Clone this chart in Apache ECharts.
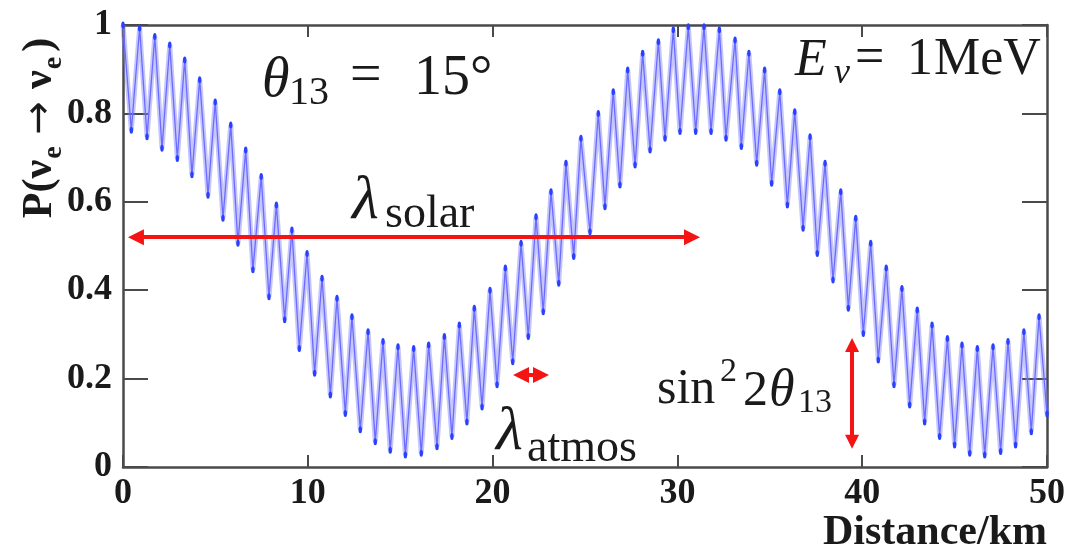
<!DOCTYPE html>
<html><head><meta charset="utf-8">
<script src="https://cdn.jsdelivr.net/npm/echarts@6/dist/echarts.min.js"></script>
<style>html,body{margin:0;padding:0;background:#fff}#c{width:1084px;height:552px}</style>
</head><body><div id="c"></div>
<script>
// Distance (km) of successive maxima / minima of the fast oscillation
const distanceKm = [
  0.00, 0.45, 0.90, 1.30, 1.72, 2.11, 2.53, 2.94, 3.34, 3.73,
  4.15, 4.60, 4.99, 5.41, 5.83, 6.22, 6.64, 7.03, 7.48, 7.90,
  8.30, 8.75, 9.14, 9.54, 9.96, 10.37, 10.77, 11.22, 11.58, 12.03,
  12.39, 12.84, 13.26, 13.65, 14.07, 14.46, 14.88, 15.28, 15.73, 16.14,
  16.54, 16.99, 17.39, 17.80, 18.20, 18.61, 19.01, 19.43, 19.86, 20.24,
  20.69, 21.09, 21.54, 21.93, 22.35, 22.74, 23.16, 23.58, 23.97, 24.39,
  24.78, 25.27, 25.72, 26.08, 26.53, 26.89, 27.31, 27.71, 28.12, 28.52,
  28.97, 29.33, 29.78, 30.14, 30.59, 30.99, 31.44, 31.82, 32.27, 32.63,
  33.12, 33.46, 33.87, 34.29, 34.72, 35.10, 35.54, 35.95, 36.35, 36.80,
  37.18, 37.57, 37.99, 38.42, 38.84, 39.25, 39.65, 40.06, 40.46, 40.87,
  41.30, 41.72, 42.15, 42.57, 42.98, 43.38, 43.78, 44.19, 44.61, 45.00,
  45.40, 45.82, 46.23, 46.63, 47.08, 47.49, 47.89, 48.30, 48.75, 49.15,
  49.57, 50.00
];
const probability = [
  1.000, 0.762, 0.993, 0.747, 0.974, 0.721, 0.955, 0.698, 0.921, 0.661,
  0.876, 0.615, 0.826, 0.563, 0.774, 0.506, 0.717, 0.446, 0.657, 0.385,
  0.593, 0.333, 0.536, 0.268, 0.483, 0.212, 0.427, 0.163, 0.382, 0.121,
  0.340, 0.084, 0.306, 0.057, 0.284, 0.038, 0.272, 0.027, 0.268, 0.031,
  0.276, 0.046, 0.295, 0.069, 0.321, 0.102, 0.359, 0.136, 0.400, 0.186,
  0.450, 0.238, 0.506, 0.295, 0.566, 0.351, 0.623, 0.416, 0.687, 0.476,
  0.744, 0.532, 0.800, 0.589, 0.849, 0.638, 0.898, 0.683, 0.936, 0.717,
  0.962, 0.744, 0.989, 0.759, 0.996, 0.759, 0.996, 0.759, 0.989, 0.744,
  0.966, 0.725, 0.936, 0.687, 0.898, 0.642, 0.849, 0.593, 0.804, 0.540,
  0.747, 0.483, 0.687, 0.423, 0.623, 0.359, 0.563, 0.302, 0.506, 0.242,
  0.450, 0.186, 0.404, 0.140, 0.355, 0.102, 0.321, 0.069, 0.291, 0.050,
  0.276, 0.031, 0.268, 0.027, 0.272, 0.035, 0.284, 0.050, 0.306, 0.080,
  0.340, 0.120
];
const xTickValues = [0, 10, 20, 30, 40, 50];
const yTickValues = [0, 0.2, 0.4, 0.6, 0.8, 1];
// annotation arrows in data coordinates: [x1, y1, x2, y2]
const arrowSolar = [0.70, 0.52, 30.79, 0.52];
const arrowAtmos = [21.54, 0.208, 22.62, 0.208];
const arrowTheta = [39.45, 0.276, 39.45, 0.057];

const FONT = '"Liberation Serif", "Times New Roman", serif';
const AX = '#4a4a4a';
const TXT = '#1a1a1a';
const RED = '#f51414';

function txt(s, left, baseline, size, opts) {
  opts = opts || {};
  return {
    type: 'text', x: left, y: baseline - 0.33 * size, silent: true, z: 100,
    style: {
      text: s, fontFamily: FONT, fontSize: size,
      fontStyle: opts.italic ? 'italic' : 'normal',
      fontWeight: opts.bold ? 'bold' : 'normal',
      fill: TXT, align: opts.align || 'left', verticalAlign: 'middle'
    }
  };
}

const mctx = document.createElement('canvas').getContext('2d');
function measure(s, size, bold, family) {
  mctx.font = (bold ? 'bold ' : '') + size + 'px ' + (family || FONT);
  return mctx.measureText(s).width;
}

// rotated y-axis title built from runs
function yTitle() {
  const M = 42;
  const runs = [
    { t: 'P(', s: M, dy: 0, gap: 0 },
    { t: 'ν', s: M, dy: 0, gap: 1 },
    { t: 'e', s: 28, dy: 9, gap: 12 },
    { t: '→', s: 40, dy: 0, gap: 12, fam: '"DejaVu Sans", sans-serif', bold: false },
    { t: 'ν', s: M, dy: 0, gap: 1 },
    { t: 'e', s: 28, dy: 9, gap: 5 },
    { t: ')', s: M, dy: 0, gap: 0 }
  ];
  let total = 0;
  runs.forEach(r => {
    r.b = r.bold !== false;
    r.w = measure(r.t, r.s, r.b, r.fam) + r.gap;
    total += r.w;
  });
  let cx = -total / 2;
  const B = 0.33 * M;
  const children = runs.map(r => {
    const el = {
      type: 'text', x: cx, y: B + r.dy - 0.33 * r.s, silent: true,
      style: { text: r.t, fontFamily: r.fam || FONT, fontSize: r.s, fontWeight: r.b ? 'bold' : 'normal',
        fill: TXT, align: 'left', verticalAlign: 'middle' }
    };
    cx += r.w;
    return el;
  });
  return { type: 'group', x: 40, y: 128, rotation: Math.PI / 2, children: children };
}

function arrowLine(a, size) {
  return [
    { coord: [a[0], a[1]], symbolSize: size },
    { coord: [a[2], a[3]], symbolSize: size }
  ];
}

const lineData = distanceKm.map((d, i) => [d, probability[i]]);

const chart = echarts.init(document.getElementById('c'));
const axisCommon = {
  type: 'value',
  axisLine: { show: true, onZero: false, lineStyle: { color: AX, width: 2.5 } },
  splitLine: { show: false },
  axisLabel: { show: false }
};
chart.setOption({
  animation: false,
  backgroundColor: '#fff',
  grid: { left: 123, right: 37, top: 25, bottom: 85, containLabel: false },
  xAxis: [
    Object.assign({}, axisCommon, {
      position: 'bottom', min: xTickValues[0], max: xTickValues[xTickValues.length - 1], interval: 10,
      axisTick: { show: true, inside: true, length: 12, lineStyle: { color: AX, width: 2 } },
      axisLabel: { show: true, margin: 9, fontFamily: FONT, fontWeight: 'bold', fontSize: 36, color: TXT,
        formatter: v => String(v) }
    }),
    Object.assign({}, axisCommon, {
      position: 'top', min: xTickValues[0], max: xTickValues[xTickValues.length - 1], interval: 10,
      axisTick: { show: true, inside: true, length: 12, lineStyle: { color: AX, width: 2 } }
    })
  ],
  yAxis: [
    Object.assign({}, axisCommon, {
      position: 'left', min: yTickValues[0], max: yTickValues[yTickValues.length - 1], interval: 0.2,
      axisTick: { show: true, inside: true, length: 25, lineStyle: { color: AX, width: 2 } },
      axisLabel: { show: true, margin: 11, fontFamily: FONT, fontWeight: 'bold', fontSize: 36, color: TXT,
        formatter: v => (v === 0 || v === 1) ? String(v) : v.toFixed(1) }
    }),
    Object.assign({}, axisCommon, {
      position: 'right', min: yTickValues[0], max: yTickValues[yTickValues.length - 1], interval: 0.2,
      axisTick: { show: true, inside: true, length: 25, lineStyle: { color: AX, width: 2 } }
    })
  ],
  series: [
    {
      type: 'line', data: lineData, xAxisIndex: 0, yAxisIndex: 0,
      showSymbol: false, silent: true, z: 2,
      lineStyle: { color: 'rgba(120,120,255,0.42)', width: 5 }
    },
    {
      type: 'line', data: lineData, xAxisIndex: 0, yAxisIndex: 0,
      symbol: 'circle', symbolSize: [3.5, 7], showSymbol: true, silent: true, z: 3,
      itemStyle: { color: '#2a40ff' },
      lineStyle: { color: '#6b6bff', width: 1.3 },
      markLine: {
        silent: true, animation: false,
        symbol: ['triangle', 'triangle'],
        label: { show: false },
        lineStyle: { color: RED, width: 4, type: 'solid' },
        emphasis: { disabled: true },
        data: [arrowLine(arrowSolar, 16), arrowLine(arrowAtmos, 16), arrowLine(arrowTheta, 14)]
      }
    }
  ],
  graphic: [
    yTitle(),
    txt('Distance/km', 1047, 547, 42, { bold: true, align: 'right' }),
    // θ13 = 15°
    txt('θ', 262, 100, 56, { italic: true }),
    txt('13', 289, 107, 40),
    txt('=', 350, 96, 56),
    txt('15°', 414, 98, 56),
    // Eν = 1 MeV
    txt('E', 795, 78, 52, { italic: true }),
    txt('ν', 834, 85, 36, { italic: true }),
    txt('=', 855, 77, 52),
    txt('1', 907, 78, 52),
    txt('MeV', 934, 78, 52),
    // λ solar
    txt('λ', 352, 222, 62, { italic: true }),
    txt('solar', 385, 230, 46),
    // λ atmos
    txt('λ', 496, 453, 62, { italic: true }),
    txt('atmos', 527, 464, 46),
    // sin^2 2θ13
    txt('sin', 657, 406, 50),
    txt('2', 720, 383, 34),
    txt('2', 743, 408, 50),
    txt('θ', 769, 408, 52, { italic: true }),
    txt('13', 798, 414, 34)
  ]
});
</script>
</body></html>
